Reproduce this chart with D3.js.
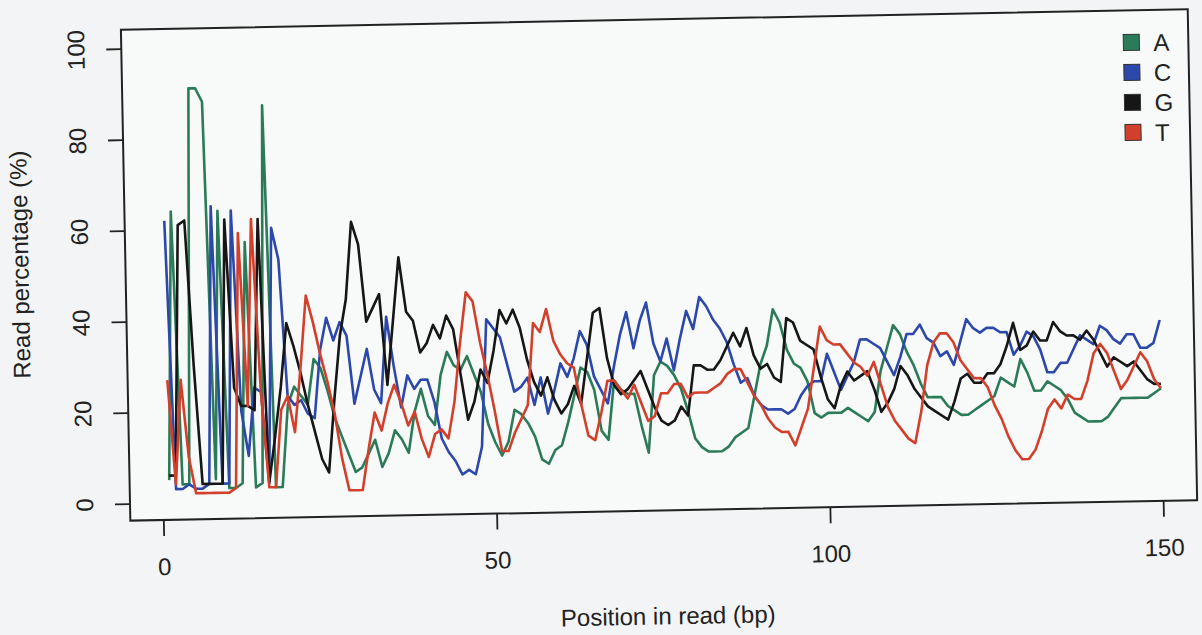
<!DOCTYPE html>
<html>
<head>
<meta charset="utf-8">
<script src="https://cdn.jsdelivr.net/npm/d3@7/dist/d3.min.js"></script>
<style>
body { margin: 0; background: #f2f3f4; }
svg { display: block; font-family: "Liberation Sans", Arial, sans-serif; }
</style>
</head>
<body>
<div id="chart"></div>
<script>
// read percentage per position (1..150) for each base
var bases = ['A', 'C', 'G', 'T'];
var colours = ['#2b7b58', '#2c48aa', '#161616', '#d2402c'];
var tickX = [0, 50, 100, 150];
var tickY = [0, 20, 40, 60, 80, 100];

var seqA = [5,64,4,4,91,91,88,5,64,3,3,4,57,3,4,87,3,3,
    21,25,23,21,31,29,24,18,14,10,6,7,10,13,7,10,15,13,10,19,24,18,16,27,32,29,28,31,27,23,16,12,9,12,19,18,
    16,13,8,7,10,11,16,22,28,27,23,14,12,25,23,22,22,15,9,26,29,28,26,23,18,12,10,9,9,9,10,12,13,14,
    21,28,32,40,37,31,28,27,24,17,16,17,17,17,18,17,16,15,17,26,31,36,34,30,27,23,20,20,20,18,17,16,16,17,18,19,
    20,24,23,22,28,25,21,21,23,22,21,19,16,15,14,14,14,15,17,19,19,19,19,19,20,21];
var seqC = [62,3,3,4,3,3,4,65,4,4,64,20,10,25,24,4,60,53,
    23,21,22,19,18,33,40,35,39,36,21,27,33,24,21,40,29,20,27,24,26,26,21,13,10,8,5,6,5,11,39,37,35,29,23,24,
    26,20,26,18,23,29,26,30,36,33,26,23,20,28,35,40,32,38,42,33,29,34,27,34,40,36,43,41,38,36,33,28,24,25,
    21,19,18,18,18,17,18,21,23,24,24,30,26,22,25,28,33,33,32,31,28,25,29,34,34,36,33,32,29,30,27,32,37,35,34,35,
    35,34,34,29,31,34,33,30,25,25,27,27,30,33,32,31,35,34,32,31,33,33,30,30,31,36];
var seqG = [6,6,61,62,30,4,4,4,4,62,25,21,21,20,62,4,14,25,
    39,34,28,21,15,9,6,22,36,44,61,56,39,42,45,25,39,53,41,39,32,34,38,35,40,37,27,17,21,28,25,32,41,38,41,37,
    30,25,22,26,21,18,20,24,20,30,40,41,30,24,22,23,25,27,23,19,16,15,16,19,17,28,28,27,27,29,32,35,32,36,
    30,27,28,25,24,38,37,33,32,31,25,20,18,23,26,24,25,26,22,17,19,22,27,25,22,20,18,17,16,15,19,24,25,23,23,25,
    25,27,31,36,30,31,34,32,32,36,34,33,33,32,34,32,29,26,28,27,26,27,25,23,22,22];
var seqT = [27,4,27,10,2,2,2,2,2,2,3,59,21,62,24,3,3,20,
    23,15,29,45,39,32,26,19,9,2,2,2,11,19,15,21,25,21,16,19,13,9,14,15,13,21,34,45,43,34,27,19,10,10,14,17,
    20,38,36,41,34,31,29,28,20,13,12,18,25,25,23,21,24,20,16,17,22,22,24,24,21,22,22,22,23,24,26,27,27,24,
    21,19,16,14,13,13,10,14,18,27,36,33,32,32,30,28,27,25,28,23,18,15,13,11,10,17,27,32,34,34,32,28,26,24,24,22,
    18,15,11,8,6,6,8,12,17,19,17,20,19,19,23,29,31,29,25,21,23,26,29,27,23,21];

var series = [seqA, seqC, seqG, seqT];
series.forEach(function(s, i){ console.log(bases[i], s.length); });

var svg = d3.select('#chart').append('svg')
    .attr('width', 1202)
    .attr('height', 635);

svg.append('rect')
    .attr('width', 1202).attr('height', 635)
    .attr('fill', '#f3f4f5');

// the scanned figure is tilted a little
var g = svg.append('g').attr('transform', 'rotate(-1.1,163,503)');

var xScale = d3.scaleLinear()
    .domain([0, 150])
    .range([163, 1163]);

var yScale = d3.scaleLinear()
    .domain([0, 100])
    .range([503, 48]);

g.append('rect')
    .attr('x', 130).attr('y', 29)
    .attr('width', 1067).attr('height', 491)
    .attr('fill', '#f8f9f9')
    .attr('stroke', '#222')
    .attr('stroke-width', 2);

var xAxis = d3.axisBottom(xScale)
    .tickValues(tickX)
    .tickSize(16)
    .tickSizeOuter(0)
    .tickPadding(22);
var yAxis = d3.axisLeft(yScale)
    .tickValues(tickY)
    .tickSize(15)
    .tickSizeOuter(0);

var gx = g.append('g').attr('transform', 'translate(0,520)').call(xAxis);
var gy = g.append('g').attr('transform', 'translate(130,0)').call(yAxis);

[gx, gy].forEach(function(a){
    a.select('.domain').remove();
    a.selectAll('line').attr('stroke', '#222').attr('stroke-width', 1.8);
    a.selectAll('text').attr('fill', '#222').style('font-size', '24px')
        .style('font-family', '"Liberation Sans", Arial, sans-serif');
});

gy.selectAll('text')
    .attr('transform', 'rotate(-90)')
    .attr('x', 0)
    .attr('y', -37)
    .attr('dy', 0)
    .attr('text-anchor', 'middle');

g.append('text')
    .attr('x', 666).attr('y', 634)
    .attr('text-anchor', 'middle')
    .attr('fill', '#222')
    .style('font-size', '24px')
    .text('Position in read (bp)');

g.append('text')
    .attr('transform', 'translate(33,262) rotate(-90)')
    .attr('text-anchor', 'middle')
    .attr('fill', '#222')
    .style('font-size', '24px')
    .text('Read percentage (%)');

// positions start at 1
var line = d3.line()
    .x(function(d, i){ return xScale(i + 1); })
    .y(function(d){ return yScale(d); });

g.selectAll('path.base')
    .data(series)
    .enter()
    .append('path')
    .attr('class', 'base')
    .attr('d', line)
    .attr('fill', 'none')
    .attr('stroke', function(d, i){ return colours[i]; })
    .attr('stroke-width', 2.6)
    .attr('stroke-linejoin', 'round');

var leg = g.selectAll('g.leg')
    .data(bases)
    .enter()
    .append('g')
    .attr('class', 'leg')
    .attr('transform', function(d, i){ return 'translate(1140,' + (61 + 30 * i) + ')'; });

leg.append('rect')
    .attr('x', -8).attr('y', -8)
    .attr('width', 16).attr('height', 16)
    .attr('fill', function(d, i){ return colours[i]; })
    .attr('stroke', '#333')
    .attr('stroke-width', 1);

leg.append('text')
    .attr('x', 22).attr('y', 9)
    .attr('fill', '#222')
    .style('font-size', '24px')
    .text(function(d){ return d; });
</script>
</body>
</html>
